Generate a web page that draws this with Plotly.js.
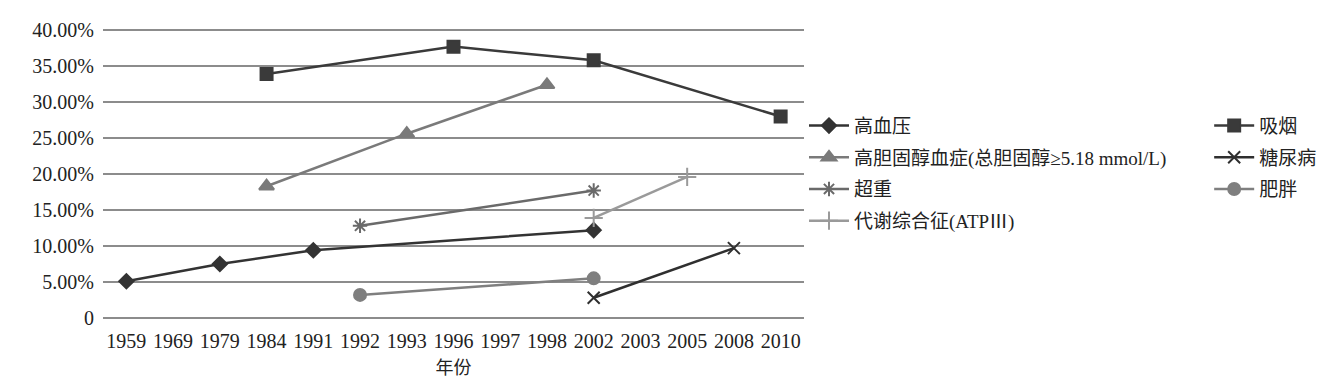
<!DOCTYPE html>
<html>
<head>
<meta charset="utf-8">
<script src="https://cdn.plot.ly/plotly-3.0.1.min.js"></script>
<style>html,body{margin:0;padding:0;background:#fff;}#chart{width:1330px;height:385px;}</style>
</head>
<body>
<div id="chart"></div>
<script>
const years = ["1959","1969","1979","1984","1991","1992","1993","1996","1997","1998","2002","2003","2005","2008","2010"];
const hypertension = [5.1, null, 7.5, null, 9.4, null, null, null, null, null, 12.2, null, null, null, null];
const cholesterol  = [null, null, null, 18.3, null, null, 25.6, null, null, 32.4, null, null, null, null, null];
const overweight   = [null, null, null, null, null, 12.8, null, null, null, null, 17.7, null, null, null, null];
const metabolic    = [null, null, null, null, null, null, null, null, null, null, 13.9, null, 19.6, null, null];
const smoking      = [null, null, null, 33.9, null, null, null, 37.7, null, null, 35.8, null, null, null, 28.0];
const diabetes     = [null, null, null, null, null, null, null, null, null, null, 2.8, null, null, 9.7, null];
const obesity      = [null, null, null, null, null, 3.2, null, null, null, null, 5.5, null, null, null, null];
const yTickVals = [0, 5, 10, 15, 20, 25, 30, 35, 40];
const yTickText = ["0", "5.00%", "10.00%", "15.00%", "20.00%", "25.00%", "30.00%", "35.00%", "40.00%"];

const FONT = "'Liberation Serif', 'Times New Roman', 'Noto Sans CJK SC', serif";

function tr(name, y, color, symbol, msize, legend, group) {
  return {
    type: 'scatter', mode: 'lines+markers', name: name, x: years, y: y,
    connectgaps: true, legend: legend, legendgroup: group,
    line: {color: color, width: 2.5},
    marker: {symbol: symbol, size: msize, color: color, line: {color: color, width: 2}}
  };
}

const data = [
  tr('高血压', hypertension, '#333333', 'diamond', 11, 'legend', 'g1'),
  tr('高胆固醇血症(总胆固醇≥5.18 mmol/L)', cholesterol, '#7a7a7a', 'triangle-up', 13, 'legend', 'g2'),
  tr('超重', overweight, '#6a6a6a', 'asterisk-open', 12, 'legend', 'g3'),
  tr('代谢综合征(ATPⅢ)', metabolic, '#9a9a9a', 'cross-thin-open', 13, 'legend', 'g4'),
  tr('吸烟', smoking, '#3a3a3a', 'square', 12, 'legend2', 'g5'),
  tr('糖尿病', diabetes, '#2f2f2f', 'x-thin-open', 12, 'legend2', 'g6'),
  tr('肥胖', obesity, '#7f7f7f', 'circle', 12, 'legend2', 'g7')
];

const layout = {
  width: 1330, height: 385,
  margin: {l: 103, r: 526, t: 29, b: 66, autoexpand: false},
  paper_bgcolor: '#ffffff', plot_bgcolor: '#ffffff',
  font: {family: FONT, color: '#222', size: 20},
  showlegend: true,
  xaxis: {
    type: 'category', categoryarray: years, categoryorder: 'array',
    range: [-0.5, years.length - 0.5],
    showgrid: false, zeroline: false, showline: false,
    ticks: '', ticklabelstandoff: 8,
    tickfont: {family: FONT, size: 20, color: '#222'},
    title: {text: '年份', font: {family: FONT, size: 18, color: '#222'}, standoff: 10}
  },
  yaxis: {
    range: [-0.15, 40.15], tickvals: yTickVals, ticktext: yTickText,
    showgrid: true, gridcolor: '#8c8c8c', gridwidth: 2,
    zeroline: false, showline: false, ticks: '', ticklabelstandoff: 8,
    tickfont: {family: FONT, size: 20, color: '#222'}
  },
  legend: {
    x: 1.0, y: 0.732, xanchor: 'left', yanchor: 'top',
    font: {family: FONT, size: 19, color: '#222'},
    bgcolor: 'rgba(0,0,0,0)', itemwidth: 40, tracegroupgap: 4
  },
  legend2: {
    x: 1.578, y: 0.732, xanchor: 'left', yanchor: 'top',
    font: {family: FONT, size: 19, color: '#222'},
    bgcolor: 'rgba(0,0,0,0)', itemwidth: 40, tracegroupgap: 4
  }
};

Plotly.newPlot('chart', data, layout, {displayModeBar: false, staticPlot: true});
</script>
</body>
</html>
